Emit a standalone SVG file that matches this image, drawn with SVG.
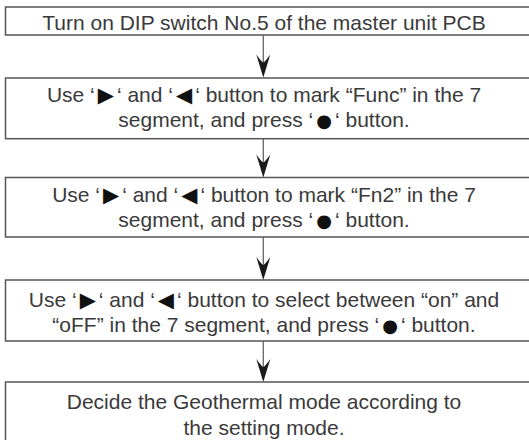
<svg xmlns="http://www.w3.org/2000/svg" width="529" height="440" viewBox="0 0 529 440">
<defs>
<style>
.box{fill:#fff;stroke:#555;stroke-width:1.5}
.t{font-family:"Liberation Sans",Arial,"DejaVu Sans",sans-serif;font-size:21px;fill:#3a3a3a;text-anchor:middle}
.g{font-family:"DejaVu Sans",sans-serif;font-size:21px;fill:#111}
.d{font-family:"DejaVu Sans",sans-serif;font-size:18px;fill:#111}
.ln{stroke:#666;stroke-width:1.3;fill:none}
.ah{fill:#1a1a1a}
</style>
<path id="head" d="M0,0 L-7,-23 Q-2,-16 0,-15 Q2,-16 7,-23 Z"/>
</defs>
<rect width="529" height="440" fill="#fff"/>
<g id="connectors">
<line class="ln" x1="263.3" y1="35" x2="263.3" y2="64"/>
<use href="#head" class="ah" x="263.3" y="77.5"/>
<line class="ln" x1="263.3" y1="138.7" x2="263.3" y2="164"/>
<use href="#head" class="ah" x="263.3" y="177.5"/>
<line class="ln" x1="263.3" y1="237" x2="263.3" y2="267"/>
<use href="#head" class="ah" x="263.3" y="280"/>
<line class="ln" x1="263.3" y1="341" x2="263.3" y2="369"/>
<use href="#head" class="ah" x="263.3" y="382"/>
</g>
<g id="n1">
<rect class="box" x="5.5" y="7" width="525" height="28"/>
<text class="t" x="264" y="29.5">Turn on DIP switch No.5 of the master unit PCB</text>
</g>
<g id="n2">
<rect class="box" x="5.5" y="78" width="525" height="60.7"/>
<text class="t" x="264" y="101.5">Use ‘<tspan class="g" dx="3">▶</tspan><tspan dx="3">‘</tspan> and ‘<tspan class="g" dx="3">◀</tspan><tspan dx="3">‘</tspan> button to mark “Func” in the 7</text>
<text class="t" x="264" y="127">segment, and press ‘<tspan class="d" dx="3">●</tspan><tspan dx="3">‘</tspan> button.</text>
</g>
<g id="n3">
<rect class="box" x="5.5" y="177.5" width="525" height="59.5"/>
<text class="t" x="264" y="201.5">Use ‘<tspan class="g" dx="3">▶</tspan><tspan dx="3">‘</tspan> and ‘<tspan class="g" dx="3">◀</tspan><tspan dx="3">‘</tspan> button to mark “Fn2” in the 7</text>
<text class="t" x="264" y="227">segment, and press ‘<tspan class="d" dx="3">●</tspan><tspan dx="3">‘</tspan> button.</text>
</g>
<g id="n4">
<rect class="box" x="5.5" y="280" width="525" height="61"/>
<text class="t" x="264" y="306.5">Use ‘<tspan class="g" dx="3">▶</tspan><tspan dx="3">‘</tspan> and ‘<tspan class="g" dx="3">◀</tspan><tspan dx="3">‘</tspan> button to select between “on” and</text>
<text class="t" x="264" y="332">“oFF” in the 7 segment, and press ‘<tspan class="d" dx="3">●</tspan><tspan dx="3">‘</tspan> button.</text>
</g>
<g id="n5">
<rect class="box" x="5.5" y="382" width="525" height="70"/>
<text class="t" x="264" y="409">Decide the Geothermal mode according to</text>
<text class="t" x="264" y="434.5">the setting mode.</text>
</g>
</svg>
